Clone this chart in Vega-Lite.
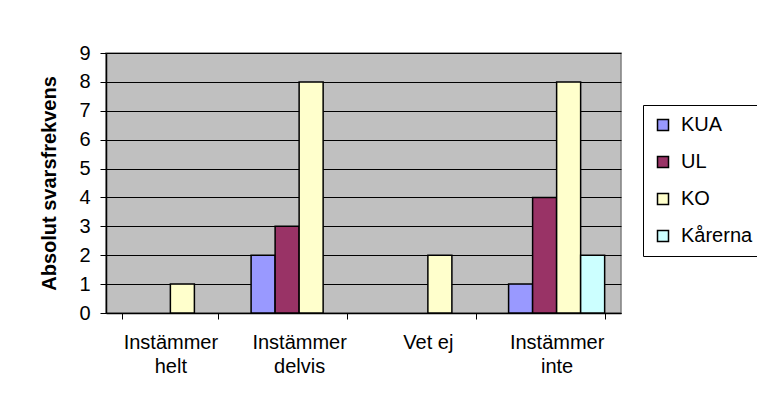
{
  "$schema": "https://vega.github.io/schema/vega-lite/v6.json",
  "width": 515,
  "height": 260,
  "autosize": "none",
  "padding": {"left": 106, "top": 53, "right": 136, "bottom": 97},
  "background": "white",
  "config": {
    "font": "Liberation Sans",
    "view": {"fill": "#C0C0C0", "stroke": "#808080", "strokeWidth": 1.5}
  },
  "data": {
    "values": [
      {"svar": "Instämmer helt", "grupp": "KO", "antal": 1},
      {"svar": "Instämmer delvis", "grupp": "KUA", "antal": 2},
      {"svar": "Instämmer delvis", "grupp": "UL", "antal": 3},
      {"svar": "Instämmer delvis", "grupp": "KO", "antal": 8},
      {"svar": "Vet ej", "grupp": "KO", "antal": 2},
      {"svar": "Instämmer inte", "grupp": "KUA", "antal": 1},
      {"svar": "Instämmer inte", "grupp": "UL", "antal": 4},
      {"svar": "Instämmer inte", "grupp": "KO", "antal": 8},
      {"svar": "Instämmer inte", "grupp": "Kårerna", "antal": 2}
    ]
  },
  "mark": {"type": "bar", "stroke": "black", "strokeWidth": 1.5},
  "encoding": {
    "x": {
      "field": "svar",
      "type": "nominal",
      "sort": ["Instämmer helt", "Instämmer delvis", "Vet ej", "Instämmer inte"],
      "scale": {"paddingInner": 0.254, "paddingOuter": 0.127},
      "axis": {
        "title": null,
        "labelAngle": 0,
        "labelFontSize": 20,
        "labelColor": "black",
        "labelPadding": 13,
        "labelLineHeight": 24,
        "labelExpr": "datum.label == 'Vet ej' ? 'Vet ej' : split(datum.label, ' ')",
        "tickBand": "extent",
        "tickSize": 6,
        "tickColor": "black",
        "domainColor": "black",
        "domainWidth": 1.5,
        "grid": false
      }
    },
    "xOffset": {
      "field": "grupp",
      "type": "nominal",
      "scale": {"domain": ["KUA", "UL", "KO", "Kårerna"], "paddingInner": 0, "paddingOuter": 0}
    },
    "y": {
      "field": "antal",
      "type": "quantitative",
      "scale": {"domain": [0, 9], "nice": false},
      "axis": {
        "title": "Absolut svarsfrekvens",
        "titleFontSize": 20,
        "titleFontWeight": "bold",
        "titleColor": "black",
        "titlePadding": 19,
        "values": [0, 1, 2, 3, 4, 5, 6, 7, 8, 9],
        "labelFontSize": 20,
        "labelColor": "black",
        "labelPadding": 10,
        "tickSize": 6,
        "tickColor": "black",
        "domainColor": "black",
        "domainWidth": 1.5,
        "gridColor": "black",
        "gridWidth": 1
      }
    },
    "color": {
      "field": "grupp",
      "type": "nominal",
      "scale": {
        "domain": ["KUA", "UL", "KO", "Kårerna"],
        "range": ["#9999FF", "#993366", "#FFFFCC", "#CCFFFF"]
      },
      "legend": {
        "title": null,
        "orient": "none",
        "legendX": 537,
        "legendY": 52,
        "strokeColor": "black",
        "fillColor": "white",
        "padding": 10,
        "symbolType": "square",
        "symbolSize": 121,
        "symbolStrokeColor": "black",
        "symbolStrokeWidth": 1.5,
        "labelFontSize": 20,
        "labelColor": "black",
        "labelOffset": 8,
        "rowPadding": 17
      }
    }
  }
}
